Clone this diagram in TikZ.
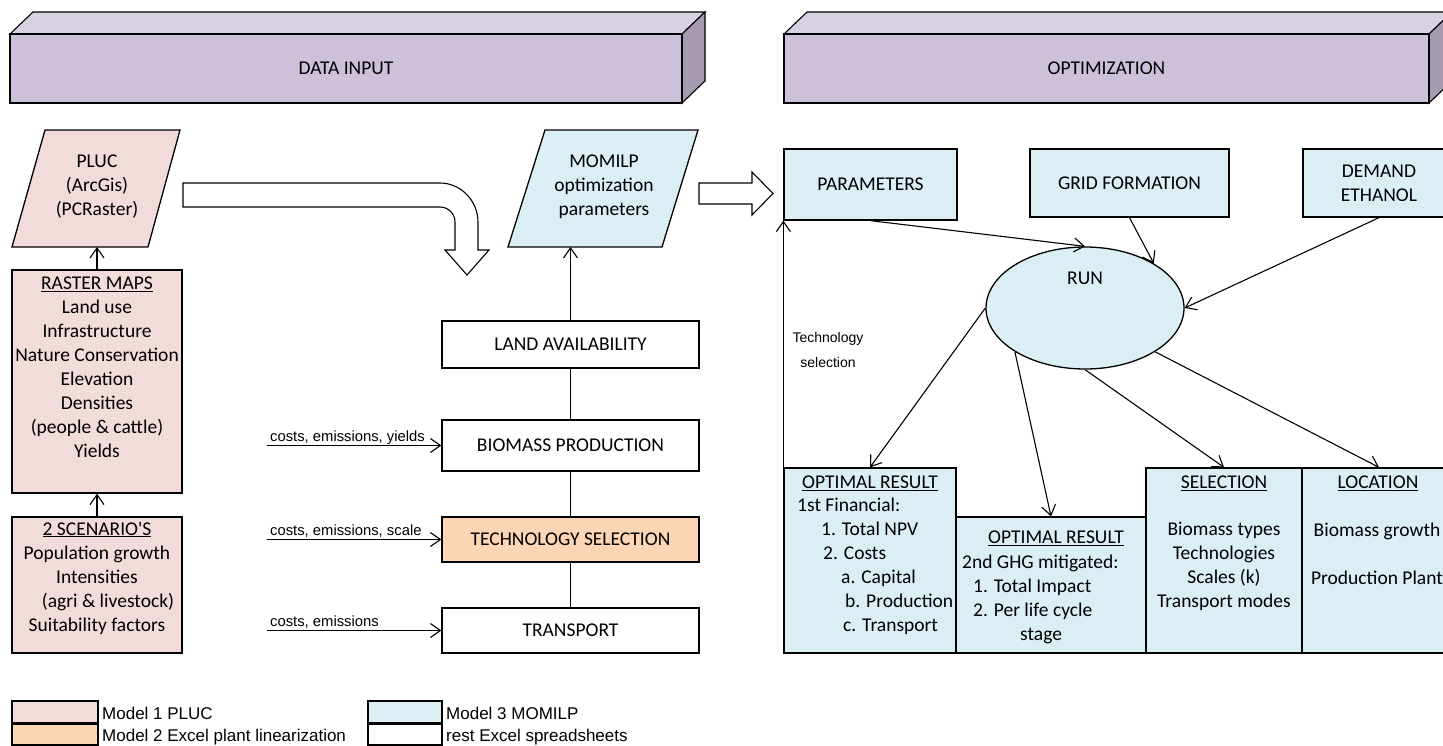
\documentclass[tikz,border=0pt]{standalone}
\usepackage{fontspec}
\setmainfont{Carlito}
\newfontfamily\arialfont{Liberation Sans}
\usetikzlibrary{arrows.meta,shapes.geometric}

\definecolor{plucpink}{RGB}{242,220,219}
\definecolor{plantorange}{RGB}{252,213,180}
\definecolor{momilpblue}{RGB}{218,238,243}
\definecolor{bannerfront}{RGB}{204,192,218}
\definecolor{bannertop}{RGB}{216,208,227}
\definecolor{bannerside}{RGB}{165,154,176}

\newcommand{\bodysize}{\fontsize{19.5}{24}\selectfont}

\tikzset{
  connector/.style={line width=1.1pt, -{Straight Barb[length=10pt,width=14pt]}},
  plainline/.style={line width=1.1pt},
  modelbox/.style={draw=black, line width=1.3pt, inner sep=0pt},
  bodytext/.style={font=\bodysize, inner sep=0pt, align=center},
  arialtext/.style={font=\arialfont\fontsize{14.8}{17}\selectfont, inner sep=0pt, anchor=base west},
  legendbox/.style={draw=black, line width=2.2pt, minimum width=86pt, minimum height=22pt, inner sep=0pt},
  legendtext/.style={font=\arialfont\fontsize{17}{20}\selectfont, inner sep=0pt, anchor=base west},
  hollowarrow/.style={draw=black, fill=white, line width=1.1pt, line join=miter},
}

\begin{document}
\begin{tikzpicture}[x=1pt,y=-1pt]
	\useasboundingbox (0,0) rectangle (1443,745);
	\clip (0,0) rectangle (1443,745);
	% banners
	\filldraw[fill=bannertop, line width=1.1pt] (10,34) -- (33,12) -- (705,12) -- (682,34) -- cycle;
	\filldraw[fill=bannerside, line width=1.1pt] (682,34) -- (705,12) -- (705,81) -- (682,103) -- cycle;
	\node[modelbox, fill=bannerfront, minimum width=672pt, minimum height=69pt, font=\bodysize] at (346,68.5) (data_input) {DATA INPUT};
	\filldraw[fill=bannertop, line width=1.1pt] (784,34) -- (807,12) -- (1452,12) -- (1429,34) -- cycle;
	\filldraw[fill=bannerside, line width=1.1pt] (1429,34) -- (1452,12) -- (1452,81) -- (1429,103) -- cycle;
	\node[modelbox, fill=bannerfront, minimum width=645pt, minimum height=69pt, font=\bodysize] at (1106.5,68.5) (optimization) {OPTIMIZATION};

	% PLUC column
	\filldraw[fill=plucpink, line width=1.3pt] (12,247) -- (45,130) -- (180,130) -- (148,247) -- cycle;
	\node[bodytext] at (97,187) (pluc) {PLUC\\(ArcGis)\\(PCRaster)};
	\coordinate (pluc_bottom) at (97,247);
	\node[modelbox, fill=plucpink, minimum width=170pt, minimum height=223pt] at (97,381.5) (raster_maps) {};
	\node[bodytext] at (97,367) (raster_text) {\underline{RASTER MAPS}\\Land use\\Infrastructure\\Nature Conservation\\Elevation\\Densities\\(people \& cattle)\\Yields};
	\node[modelbox, fill=plucpink, minimum width=170pt, minimum height=136pt] at (97,585) (scenarios) {};
	\node[bodytext] at (97,578) (scenarios_text) {\underline{2 SCENARIO\textquotesingle S}\\Population growth\\Intensities\\\hspace*{22pt}(agri \& livestock)\\Suitability factors};
	\draw[connector] (raster_maps.north) -- (pluc_bottom);
	\draw[connector] (scenarios.north) -- (raster_maps.south);

	% big bent arrow PLUC -> spreadsheets
	\draw[hollowarrow] (183,183) -- (440,183) .. controls (461,183) and (478,201) .. (478,222)
		-- (478,250) -- (489,250) -- (467,275) -- (445,250) -- (455,250) -- (455,222)
		.. controls (455,213.7) and (448.3,207) .. (440,207) -- (183,207) -- cycle;

	% spreadsheet chain
	\filldraw[fill=momilpblue, line width=1.3pt] (508,247) -- (545,130) -- (698,130) -- (662,247) -- cycle;
	\node[bodytext] at (604,187) (momilp) {MOMILP\\optimization\\parameters};
	\coordinate (momilp_bottom) at (570.5,247);
	\node[modelbox, minimum width=257pt, minimum height=47pt, font=\bodysize] at (570.5,344.5) (land) {LAND AVAILABILITY};
	\node[modelbox, minimum width=257pt, minimum height=51pt, font=\bodysize] at (570.5,445.5) (biomass) {BIOMASS PRODUCTION};
	\node[modelbox, fill=plantorange, minimum width=257pt, minimum height=45pt, font=\bodysize] at (570.5,539.5) (technology) {TECHNOLOGY SELECTION};
	\node[modelbox, minimum width=257pt, minimum height=45pt, font=\bodysize] at (570.5,630.5) (transport) {TRANSPORT};
	\draw[connector] (land.north) -- (momilp_bottom);
	\draw[plainline] (land.south) -- (biomass.north);
	\draw[plainline] (biomass.south) -- (technology.north);
	\draw[plainline] (technology.south) -- (transport.north);
	% inputs
	\coordinate (cost_bio) at (267,445.5);
	\coordinate (cost_tech) at (267,539.5);
	\coordinate (cost_trans) at (267,630.5);
	\node[arialtext] at (270,441.5) (lbl_bio) {costs, emissions, yields};
	\node[arialtext] at (270,535.5) (lbl_tech) {costs, emissions, scale};
	\node[arialtext] at (270,626.5) (lbl_trans) {costs, emissions};
	\draw[connector] (cost_bio) -- (biomass.west);
	\draw[connector] (cost_tech) -- (technology.west);
	\draw[connector] (cost_trans) -- (transport.west);

	% straight arrow into optimization
	\draw[hollowarrow] (699,183) -- (752,183) -- (752,172) -- (773,193.5) -- (752,215) -- (752,204) -- (699,204) -- cycle;

	% optimization inputs
	\node[modelbox, fill=momilpblue, minimum width=173pt, minimum height=71pt, font=\bodysize] at (870.5,184.5) (parameters) {PARAMETERS};
	\node[modelbox, fill=momilpblue, minimum width=199pt, minimum height=68pt, font=\bodysize] at (1129.5,183) (grid) {GRID FORMATION};
	\node[modelbox, fill=momilpblue, minimum width=152pt, minimum height=68pt, bodytext] at (1379,183) (demand) {DEMAND\\ETHANOL};
	\node[ellipse, draw=black, line width=1.3pt, fill=momilpblue, minimum width=198pt, minimum height=122pt, inner sep=0pt] at (1085,308) (run) {};
	\node[bodytext] at (1085,278) (run_text) {RUN};
	\draw[connector] (parameters.south) -- (run.north);
	\draw[connector] (grid.south) -- (run.33);
	\draw[connector] (demand.south) -- (run.east);

	% results
	\node[modelbox, fill=momilpblue, minimum width=172pt, minimum height=185pt] at (870,560.5) (optres_npv) {};
	\node[modelbox, fill=momilpblue, minimum width=190pt, minimum height=136pt] at (1051,585) (optres_ghg) {};
	\node[modelbox, fill=momilpblue, minimum width=156pt, minimum height=185pt] at (1224,560.5) (selection) {};
	\node[modelbox, fill=momilpblue, minimum width=154pt, minimum height=185pt] at (1379,560.5) (location) {};
	\node[bodytext] at (870,483) (optres_npv_title) {\underline{OPTIMAL RESULT}};
	\node[bodytext, align=left, anchor=west] at (797,566.5) (optres_npv_text) {1st Financial:\\\hspace*{24pt}1. Total NPV\\\hspace*{26pt}2. Costs\\\hspace*{44pt}a. Capital\\\hspace*{48pt}b. Production\\\hspace*{46pt}c. Transport};
	\node[bodytext] at (1056,538) (optres_ghg_title) {\underline{OPTIMAL RESULT}};
	\node[bodytext, align=left, anchor=west] at (962,599) (optres_ghg_text) {2nd GHG mitigated:\\\hspace*{11pt}1. Total Impact\\\hspace*{11pt}2. Per life cycle\\\hspace*{58pt}stage};
	\node[bodytext] at (1224,483) (selection_title) {\underline{SELECTION}};
	\node[bodytext] at (1224,566.5) (selection_text) {Biomass types\\Technologies\\Scales (k)\\Transport modes};
	\node[bodytext] at (1378,483) (location_title) {\underline{LOCATION}};
	\node[bodytext] at (1377,554) (location_text) {Biomass growth\\[24pt]Production Plant};
	\draw[connector] (run.west) -- (optres_npv.north);
	\draw[connector] (run.212) -- (optres_ghg.north);
	\draw[connector] (run.south) -- (selection.north);
	\draw[connector] (run.328) -- (location.north);
	% feedback
	\draw[connector] (optres_npv.north west) -- (parameters.south west);
	\node[font=\arialfont\fontsize{14}{25}\selectfont, inner sep=0pt, align=center] at (828,350) (tech_feedback) {Technology\\selection};

	% legend
	\node[legendbox, fill=plucpink] at (55,712) (leg_pluc) {};
	\node[legendbox, fill=plantorange] at (55,734.5) (leg_plant) {};
	\node[legendbox, fill=momilpblue, minimum width=74pt] at (405,712) (leg_momilp) {};
	\node[legendbox, fill=white, minimum width=74pt] at (405,734.5) (leg_rest) {};
	\node[legendtext] at (102,719) (leg_pluc_txt) {Model 1 PLUC};
	\node[legendtext] at (102,741.5) (leg_plant_txt) {Model 2 Excel plant linearization};
	\node[legendtext] at (446,719) (leg_momilp_txt) {Model 3 MOMILP};
	\node[legendtext] at (446,741.5) (leg_rest_txt) {rest Excel spreadsheets};
\end{tikzpicture}
\end{document}
